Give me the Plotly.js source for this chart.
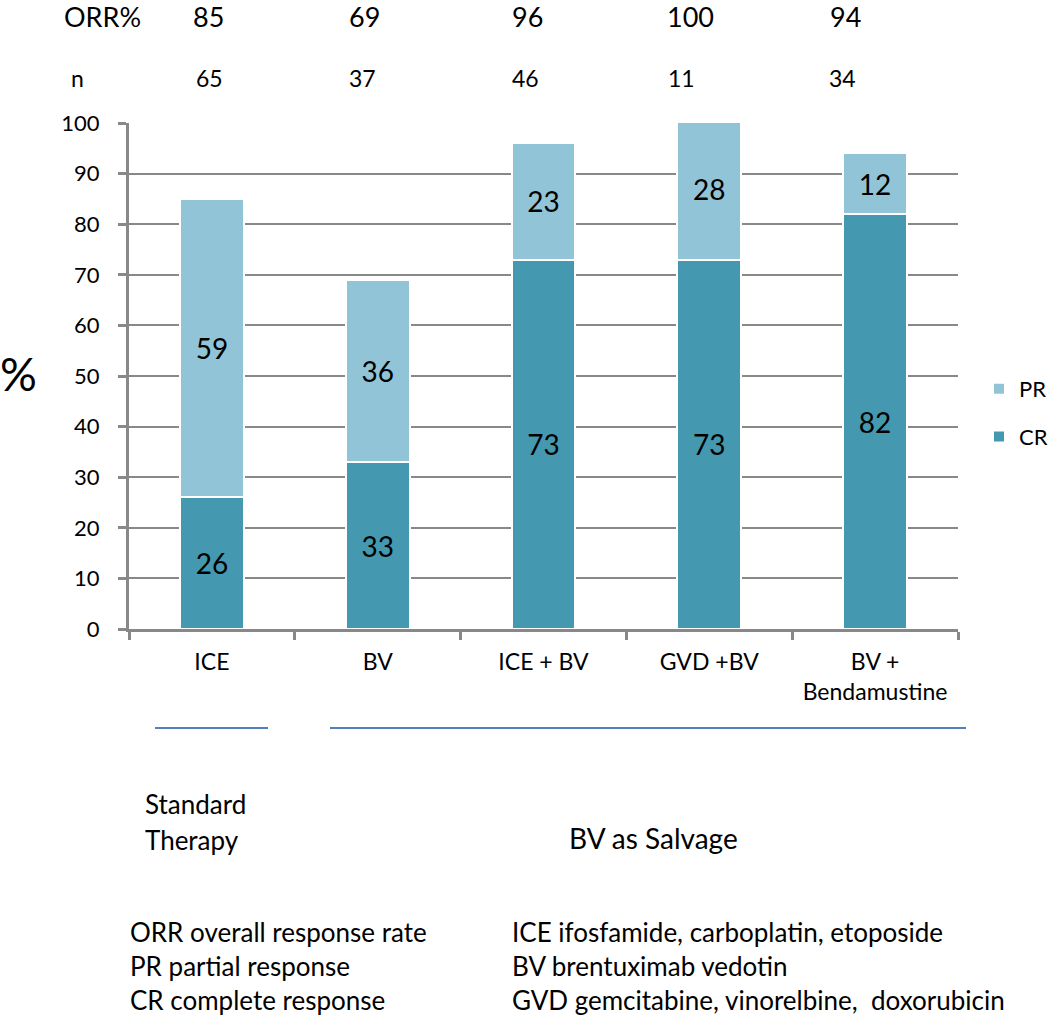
<!DOCTYPE html>
<html>
<head>
<meta charset="utf-8">
<script src="https://cdn.plot.ly/plotly-3.0.1.min.js"></script>
<style>html,body{margin:0;padding:0;background:#fff;}#chart{width:1050px;height:1016px;}</style>
</head>
<body>
<div id="chart"></div>
<script>
// ---- data ----
const categories = ["ICE", "BV", "ICE + BV", "GVD +BV", "BV +<br>Bendamustine"];
const crValues = [26, 33, 73, 73, 82];
const prValues = [59, 36, 23, 28, 12];
const orrValues = [85, 69, 96, 100, 94];
const nValues = [65, 37, 46, 11, 34];
const seriesNames = ["CR", "PR"];

// ---- layout helpers (pixel -> paper) ----
const L = 129, R = 958, T = 123, B = 629;
const fx = p => (p - L) / (R - L);
const fy = p => (B - p) / (B - T);

const FONT = "Lato, 'Open Sans', sans-serif";
const crColor = "#4499B1";
const prColor = "#92C4D7";

const traces = [
  {
    type: "bar", name: seriesNames[0], x: categories, y: crValues,
    text: crValues.map(String), textposition: "inside", insidetextanchor: "middle",
    textfont: {family: FONT, size: 28, color: "#000"},
    marker: {color: crColor, line: {color: "#fff", width: 2}},
    width: 0.385, legendgroup: "cr", legendrank: 2, hoverinfo: "skip"
  },
  {
    type: "bar", name: seriesNames[1], x: categories, y: prValues,
    text: prValues.map(String), textposition: "inside", insidetextanchor: "middle",
    textfont: {family: FONT, size: 28, color: "#000"},
    marker: {color: prColor, line: {color: "#fff", width: 2}},
    width: 0.385, legendgroup: "pr", legendrank: 1, hoverinfo: "skip"
  }
];

const orrX = [208, 364, 527, 690, 845];
const nX = [209, 362, 525, 681, 842];

const annotations = [];
annotations.push({xref: "paper", yref: "paper", x: fx(102), y: fy(0), yshift: 2, text: "ORR%", showarrow: false,
  xanchor: "center", yanchor: "top", font: {family: FONT, size: 27, color: "#000"}});
annotations.push({xref: "paper", yref: "paper", x: fx(77), y: fy(78), text: "n", showarrow: false,
  xanchor: "center", yanchor: "middle", font: {family: FONT, size: 23, color: "#000"}});
orrValues.forEach((v, i) => annotations.push({xref: "paper", yref: "paper", x: fx(orrX[i]), y: fy(0), yshift: 2,
  text: String(v), showarrow: false, xanchor: "center", yanchor: "top",
  font: {family: FONT, size: 27, color: "#000"}}));
nValues.forEach((v, i) => annotations.push({xref: "paper", yref: "paper", x: fx(nX[i]), y: fy(78),
  text: String(v), showarrow: false, xanchor: "center", yanchor: "middle",
  font: {family: FONT, size: 23, color: "#000"}}));
annotations.push({xref: "paper", yref: "paper", x: fx(18), y: fy(373), text: "%", showarrow: false,
  xanchor: "center", yanchor: "middle", font: {family: FONT, size: 46, color: "#000"}});
annotations.push({xref: "paper", yref: "paper", x: fx(143), y: fy(804), text: "Standard", showarrow: false,
  xanchor: "left", yanchor: "middle", font: {family: FONT, size: 26, color: "#000"}});
annotations.push({xref: "paper", yref: "paper", x: fx(143), y: fy(840), text: "Therapy", showarrow: false,
  xanchor: "left", yanchor: "middle", font: {family: FONT, size: 26, color: "#000"}});
annotations.push({xref: "paper", yref: "paper", x: fx(567), y: fy(838), text: "BV as Salvage", showarrow: false,
  xanchor: "left", yanchor: "middle", font: {family: FONT, size: 28, color: "#000"}});
const leftNotes = ["ORR overall response rate", "PR partial response", "CR complete response"];
const rightNotes = ["ICE ifosfamide, carboplatin, etoposide", "BV brentuximab vedotin", "GVD gemcitabine, vinorelbine,  doxorubicin"];
const noteY = [932, 966, 1000];
leftNotes.forEach((t, i) => annotations.push({xref: "paper", yref: "paper", x: fx(128), y: fy(noteY[i]), text: t,
  showarrow: false, xanchor: "left", yanchor: "middle", font: {family: FONT, size: 26, color: "#000"}}));
rightNotes.forEach((t, i) => annotations.push({xref: "paper", yref: "paper", x: fx(510), y: fy(noteY[i]), text: t,
  showarrow: false, xanchor: "left", yanchor: "middle", font: {family: FONT, size: 26, color: "#000"}}));

const shapes = [
  {type: "line", xref: "paper", yref: "paper", x0: fx(155), x1: fx(268), y0: fy(728), y1: fy(728),
   line: {color: "#4F81BD", width: 2}},
  {type: "line", xref: "paper", yref: "paper", x0: fx(330), x1: fx(966), y0: fy(728), y1: fy(728),
   line: {color: "#4F81BD", width: 2}}
];

const layout = {
  width: 1050, height: 1016,
  margin: {l: L, r: 1050 - R, t: T, b: 1016 - B, pad: 0, autoexpand: false},
  paper_bgcolor: "#fff", plot_bgcolor: "#fff",
  barmode: "stack",
  showlegend: true,
  legend: {x: fx(979), y: fy(368), xanchor: "left", yanchor: "top",
    traceorder: "grouped", tracegroupgap: 16,
    font: {family: FONT, size: 22, color: "#000"}, bgcolor: "rgba(0,0,0,0)"},
  xaxis: {
    type: "category", showgrid: false, zeroline: false,
    showline: true, linecolor: "#888", linewidth: 3,
    ticks: "outside", tickson: "boundaries", ticklen: 8, tickwidth: 3, tickcolor: "#888",
    tickfont: {family: FONT, size: 23, color: "#000"}, ticklabelstandoff: 10,
    fixedrange: true
  },
  yaxis: {
    range: [0, 100], dtick: 10, tick0: 0,
    showgrid: true, gridcolor: "#888", gridwidth: 2, zeroline: false,
    showline: true, linecolor: "#888", linewidth: 3,
    ticks: "outside", ticklen: 8, tickwidth: 3, tickcolor: "#888",
    tickfont: {family: FONT, size: 22, color: "#000"}, ticklabelstandoff: 14,
    fixedrange: true
  },
  annotations: annotations,
  shapes: shapes
};

Plotly.newPlot("chart", traces, layout, {displayModeBar: false, staticPlot: true});
</script>
</body>
</html>
